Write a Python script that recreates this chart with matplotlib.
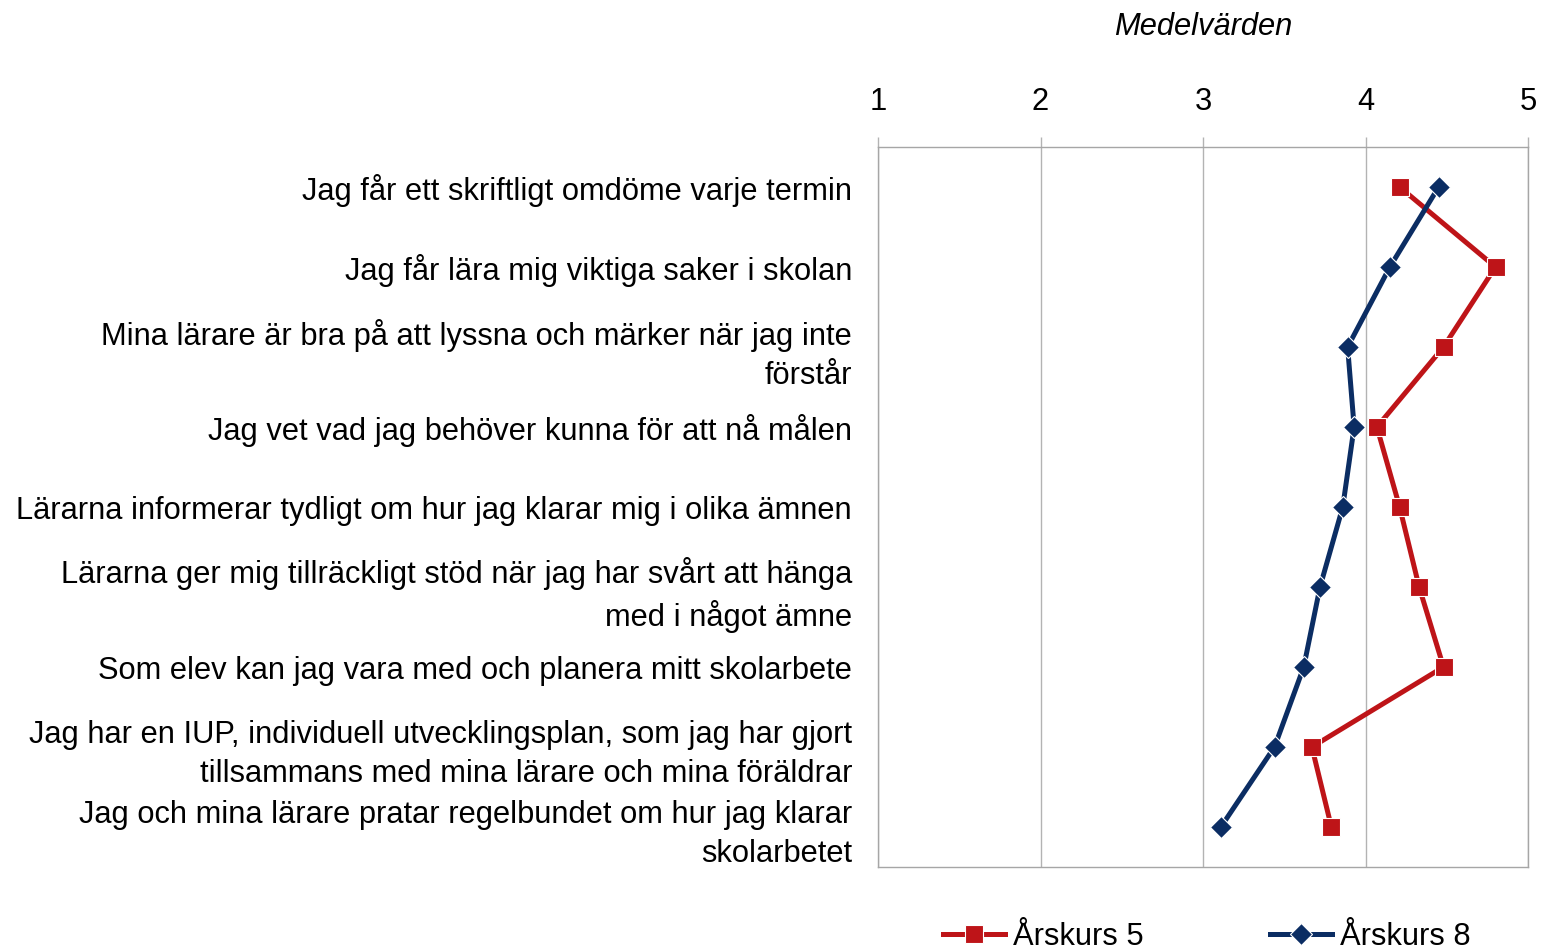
import matplotlib
matplotlib.use("Agg")
import matplotlib.pyplot as plt
import numpy as np

plt.rcParams['font.family'] = ['Liberation Sans', 'DejaVu Sans']

categories = [
    "Jag får ett skriftligt omdöme varje termin",
    "Jag får lära mig viktiga saker i skolan",
    "Mina lärare är bra på att lyssna och märker när jag inte\nförstår",
    "Jag vet vad jag behöver kunna för att nå målen",
    "Lärarna informerar tydligt om hur jag klarar mig i olika ämnen",
    "Lärarna ger mig tillräckligt stöd när jag har svårt att hänga\nmed i något ämne",
    "Som elev kan jag vara med och planera mitt skolarbete",
    "Jag har en IUP, individuell utvecklingsplan, som jag har gjort\ntillsammans med mina lärare och mina föräldrar",
    "Jag och mina lärare pratar regelbundet om hur jag klarar\nskolarbetet",
]
arskurs5 = [4.21, 4.80, 4.48, 4.07, 4.21, 4.33, 4.48, 3.67, 3.79]
arskurs8 = [4.45, 4.15, 3.89, 3.93, 3.86, 3.72, 3.62, 3.44, 3.11]
series_names = ["Årskurs 5", "Årskurs 8"]
xticks = [1, 2, 3, 4, 5]

red = '#BE1418'
blue = '#0B2D63'
grid_c = '#B3B3B3'
fs = 22.2

fig = plt.figure(figsize=(15.41, 9.5), dpi=100)
ax = fig.add_axes([878/1541, 83/950, 650/1541, 720/950])

y = np.arange(len(categories)) + 0.5
ax.plot(arskurs5, y, color=red, lw=3.6, marker='s', markersize=12.5,
        markeredgecolor='white', markeredgewidth=0.8, label=series_names[0], zorder=3)
ax.plot(arskurs8, y, color=blue, lw=3.6, marker='D', markersize=11,
        markeredgecolor='white', markeredgewidth=0.8, label=series_names[1], zorder=4)

ax.set_xlim(1, 5)
ax.set_ylim(len(categories), 0)
ax.set_xticks(xticks)
ax.set_xticklabels([str(t) for t in xticks])
ax.xaxis.tick_top()
ax.tick_params(axis='x', which='both', direction='out', length=7.2, width=1,
               color=grid_c, labelsize=fs, pad=14.5, labelcolor='black')
ax.set_yticks(y)
ax.set_yticklabels(categories, fontsize=fs, linespacing=1.38)
ax.tick_params(axis='y', length=0, pad=18.7)
ax.grid(axis='x', color=grid_c, lw=1)
ax.set_axisbelow(True)
for s in ax.spines.values():
    s.set_color('#A6A6A6')
    s.set_linewidth(1)

fig.text(1203/1541, 1 - 27/950, "Medelvärden", ha='center', va='center',
         fontsize=fs, style='italic')

fig.legend(loc='center', bbox_to_anchor=(1207/1541, 13/950), ncol=2,
           frameon=False, fontsize=fs, handlelength=2.0, columnspacing=4.1,
           handletextpad=0.26, borderaxespad=0, borderpad=0)

fig.savefig("out.png", dpi=100)
